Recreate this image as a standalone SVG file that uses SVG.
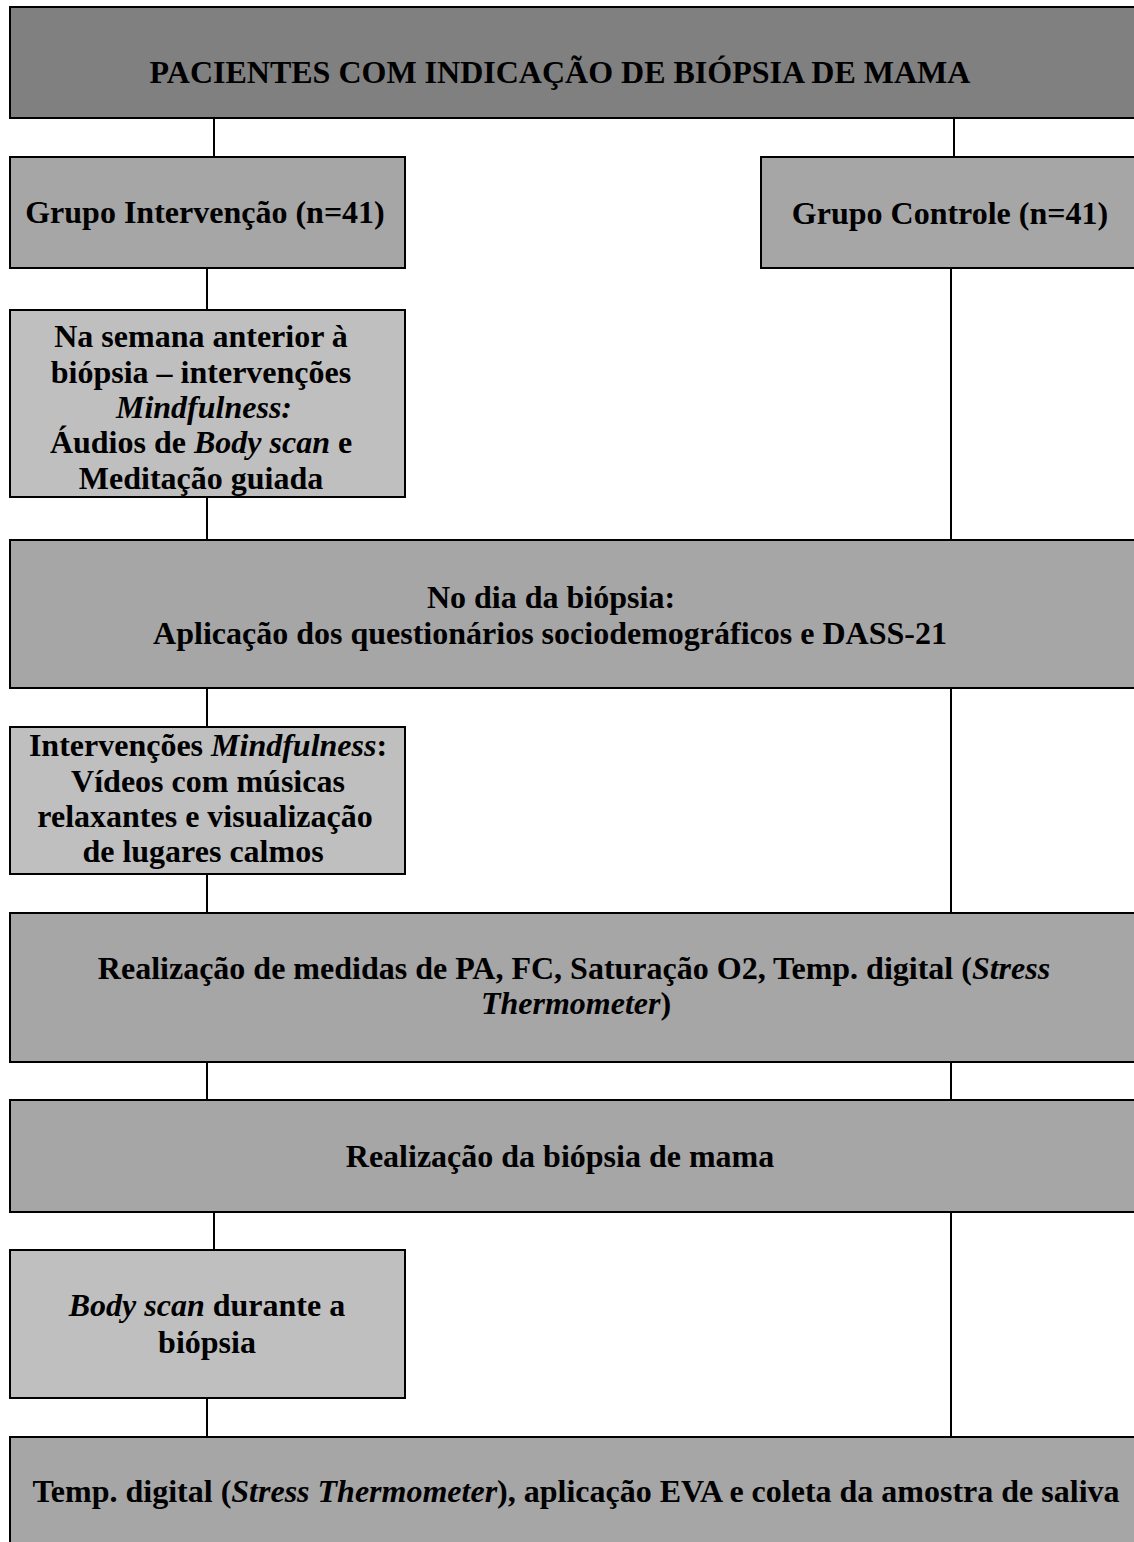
<svg xmlns="http://www.w3.org/2000/svg" width="1134" height="1542" viewBox="0 0 1134 1542">
<style>
.box{stroke:#000;stroke-width:2}
.dark{fill:#808080}
.mid{fill:#a6a6a6}
.light{fill:#bfbfbf}
.t{font-family:"Liberation Serif","Times New Roman",serif;font-weight:bold;font-size:32px;fill:#000;text-anchor:middle}
.i{font-style:italic}
.c{stroke:#000;stroke-width:2;fill:none}
</style>
<rect width="1134" height="1542" fill="#fff"/>
<g id="connectors">
<line class="c" x1="214" y1="118" x2="214" y2="157"/>
<line class="c" x1="954" y1="118" x2="954" y2="157"/>
<line class="c" x1="207" y1="268" x2="207" y2="310"/>
<line class="c" x1="207" y1="497" x2="207" y2="540"/>
<line class="c" x1="951" y1="268" x2="951" y2="540"/>
<line class="c" x1="207" y1="688" x2="207" y2="727"/>
<line class="c" x1="951" y1="688" x2="951" y2="913"/>
<line class="c" x1="207" y1="874" x2="207" y2="913"/>
<line class="c" x1="207" y1="1062" x2="207" y2="1100"/>
<line class="c" x1="951" y1="1062" x2="951" y2="1100"/>
<line class="c" x1="214" y1="1212" x2="214" y2="1250"/>
<line class="c" x1="951" y1="1212" x2="951" y2="1437"/>
<line class="c" x1="207" y1="1398" x2="207" y2="1437"/>
</g>
<g id="n-pacientes">
<rect class="box dark" x="10" y="7" width="1140" height="111"/>
<text class="t" x="560" y="83">PACIENTES COM INDICAÇÃO DE BIÓPSIA DE MAMA</text>
</g>
<g id="n-intervencao">
<rect class="box mid" x="10" y="157" width="395" height="111"/>
<text class="t" x="205" y="223">Grupo Intervenção (n=41)</text>
</g>
<g id="n-controle">
<rect class="box mid" x="761" y="157" width="390" height="111"/>
<text class="t" x="950" y="224">Grupo Controle (n=41)</text>
</g>
<g id="n-semana">
<rect class="box light" x="10" y="310" width="395" height="187"/>
<text class="t" x="201" y="347">Na semana anterior à</text>
<text class="t" x="201" y="383">biópsia – intervenções</text>
<text class="t" x="204" y="418"><tspan class="i">Mindfulness:</tspan></text>
<text class="t" x="201" y="453">Áudios de <tspan class="i">Body scan</tspan> e</text>
<text class="t" x="201" y="489">Meditação guiada</text>
</g>
<g id="n-dia">
<rect class="box mid" x="10" y="540" width="1140" height="148"/>
<text class="t" x="551" y="608">No dia da biópsia:</text>
<text class="t" x="550" y="644">Aplicação dos questionários sociodemográficos e DASS-21</text>
</g>
<g id="n-videos">
<rect class="box light" x="10" y="727" width="395" height="147"/>
<text class="t" x="208" y="756">Intervenções <tspan class="i">Mindfulness</tspan>:</text>
<text class="t" x="208" y="792">Vídeos com músicas</text>
<text class="t" x="205" y="827">relaxantes e visualização</text>
<text class="t" x="203" y="862">de lugares calmos</text>
</g>
<g id="n-medidas">
<rect class="box mid" x="10" y="913" width="1140" height="149"/>
<text class="t" x="574" y="979">Realização de medidas de PA, FC, Saturação O2, Temp. digital (<tspan class="i">Stress</tspan></text>
<text class="t" x="576" y="1014"><tspan class="i">Thermometer</tspan>)</text>
</g>
<g id="n-biopsia">
<rect class="box mid" x="10" y="1100" width="1140" height="112"/>
<text class="t" x="560" y="1167">Realização da biópsia de mama</text>
</g>
<g id="n-bodyscan">
<rect class="box light" x="10" y="1250" width="395" height="148"/>
<text class="t" x="207" y="1316"><tspan class="i">Body scan</tspan> durante a</text>
<text class="t" x="207" y="1353">biópsia</text>
</g>
<g id="n-final">
<rect class="box mid" x="10" y="1437" width="1140" height="130"/>
<text class="t" x="576" y="1502">Temp. digital (<tspan class="i">Stress Thermometer</tspan>), aplicação EVA e coleta da amostra de saliva</text>
</g>
</svg>
